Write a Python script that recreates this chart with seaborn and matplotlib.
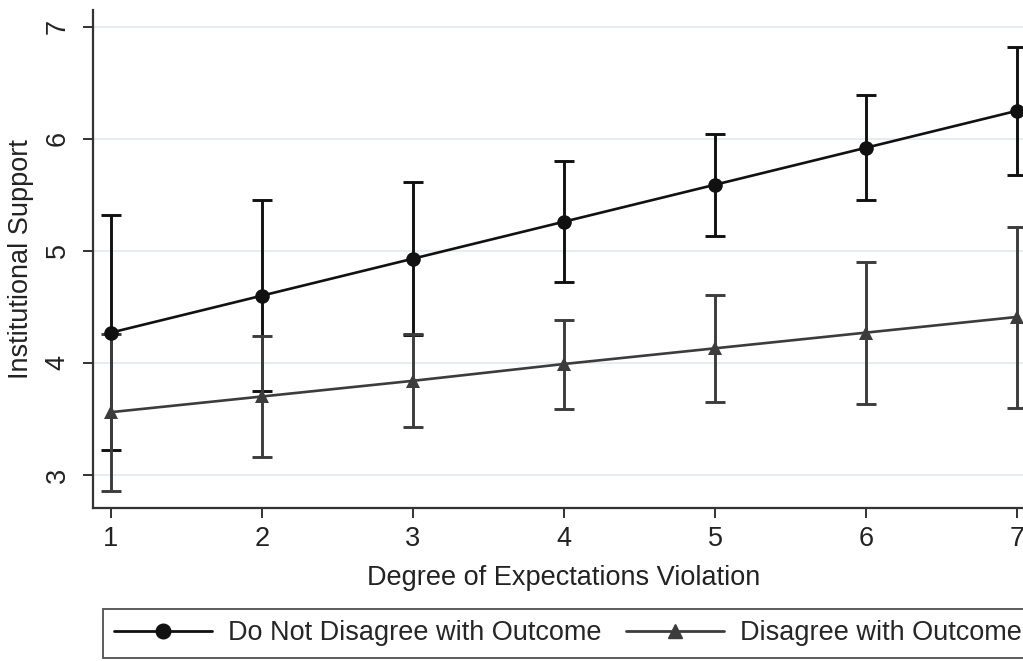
import matplotlib
matplotlib.use("Agg")
import matplotlib.pyplot as plt
import numpy as np
import pandas as pd
import seaborn as sns

# ── data ──────────────────────────────────────────────────────────────────────
violation = [1, 2, 3, 4, 5, 6, 7]

no_disagree_mean = [4.27, 4.60, 4.93, 5.26, 5.59, 5.92, 6.25]
no_disagree_lo   = [3.22, 3.75, 4.25, 4.72, 5.13, 5.45, 5.68]
no_disagree_hi   = [5.32, 5.45, 5.61, 5.80, 6.04, 6.39, 6.82]

disagree_mean = [3.56, 3.70, 3.84, 3.99, 4.13, 4.27, 4.41]
disagree_lo   = [2.86, 3.16, 3.43, 3.59, 3.65, 3.63, 3.60]
disagree_hi   = [4.26, 4.24, 4.26, 4.38, 4.61, 4.90, 5.21]

labels = ["Do Not Disagree with Outcome", "Disagree with Outcome"]

# ── style ─────────────────────────────────────────────────────────────────────
sns.set_theme(style="white")
plt.rcParams["font.family"] = ["Liberation Sans", "DejaVu Sans"]

BLACK = "#111111"
GREY  = "#3c3c3c"
GRID  = "#e4edf1"
TEXT  = "#222222"

fig = plt.figure(figsize=(10.23, 6.61), dpi=100)
ax = fig.add_axes([0.0909, 0.2315, 0.921, 0.7535])

df = pd.DataFrame({
    "x": violation * 2,
    "y": no_disagree_mean + disagree_mean,
    "group": [labels[0]] * 7 + [labels[1]] * 7,
})

series = [
    (no_disagree_mean, no_disagree_lo, no_disagree_hi, BLACK),
    (disagree_mean, disagree_lo, disagree_hi, GREY),
]

for mean, lo, hi, color in series:
    m = np.array(mean)
    yerr = [m - np.array(lo), np.array(hi) - m]
    ax.errorbar(violation, mean, yerr=yerr, fmt="none", ecolor=color,
                elinewidth=2.1, capsize=7.5, capthick=2.1, zorder=2)

sns.lineplot(data=df, x="x", y="y", hue="group", style="group",
             palette=[BLACK, GREY], markers=["o", "^"], dashes=False,
             markersize=10.5, markeredgewidth=0, linewidth=1.9,
             ax=ax, legend=False, zorder=3)

ax.set_xlim(0.881, 7.12)
ax.set_ylim(2.705, 7.15)
ax.set_xticks(violation)
ax.set_yticks([3, 4, 5, 6, 7])
ax.tick_params(axis="both", labelsize=19.5, length=7, width=1.3,
               colors=TEXT, direction="out", bottom=True, left=True)
ax.tick_params(axis="y", pad=9)
ax.tick_params(axis="x", pad=6)
for lab in ax.get_yticklabels():
    lab.set_rotation(90)
    lab.set_va("center")
ax.yaxis.grid(True, color=GRID, linewidth=1.4)
ax.xaxis.grid(False)
ax.spines[["top", "right"]].set_visible(False)
for s in ["left", "bottom"]:
    ax.spines[s].set_color("#333333")
    ax.spines[s].set_linewidth(1.6)

ax.set_xlabel("Degree of Expectations Violation", fontsize=19.5, color=TEXT,
              labelpad=9)
ax.set_ylabel("Institutional Support", fontsize=19.5, color=TEXT,
              labelpad=8)

handles = [
    plt.Line2D([], [], color=BLACK, marker="o", markersize=10.5, linewidth=2),
    plt.Line2D([], [], color=GREY, marker="^", markersize=10.5, linewidth=2),
]
leg = fig.legend(handles, labels, loc="upper left", ncol=2,
                 bbox_to_anchor=(0.1007, 1 - 609 / 661),
                 frameon=True, fancybox=False, fontsize=19.5, handlelength=3.6,
                 borderpad=0.42, borderaxespad=0, handletextpad=0.6,
                 columnspacing=0.9)
leg.get_frame().set_edgecolor("#333333")
leg.get_frame().set_linewidth(1.4)

fig.savefig("out.png", dpi=100)
